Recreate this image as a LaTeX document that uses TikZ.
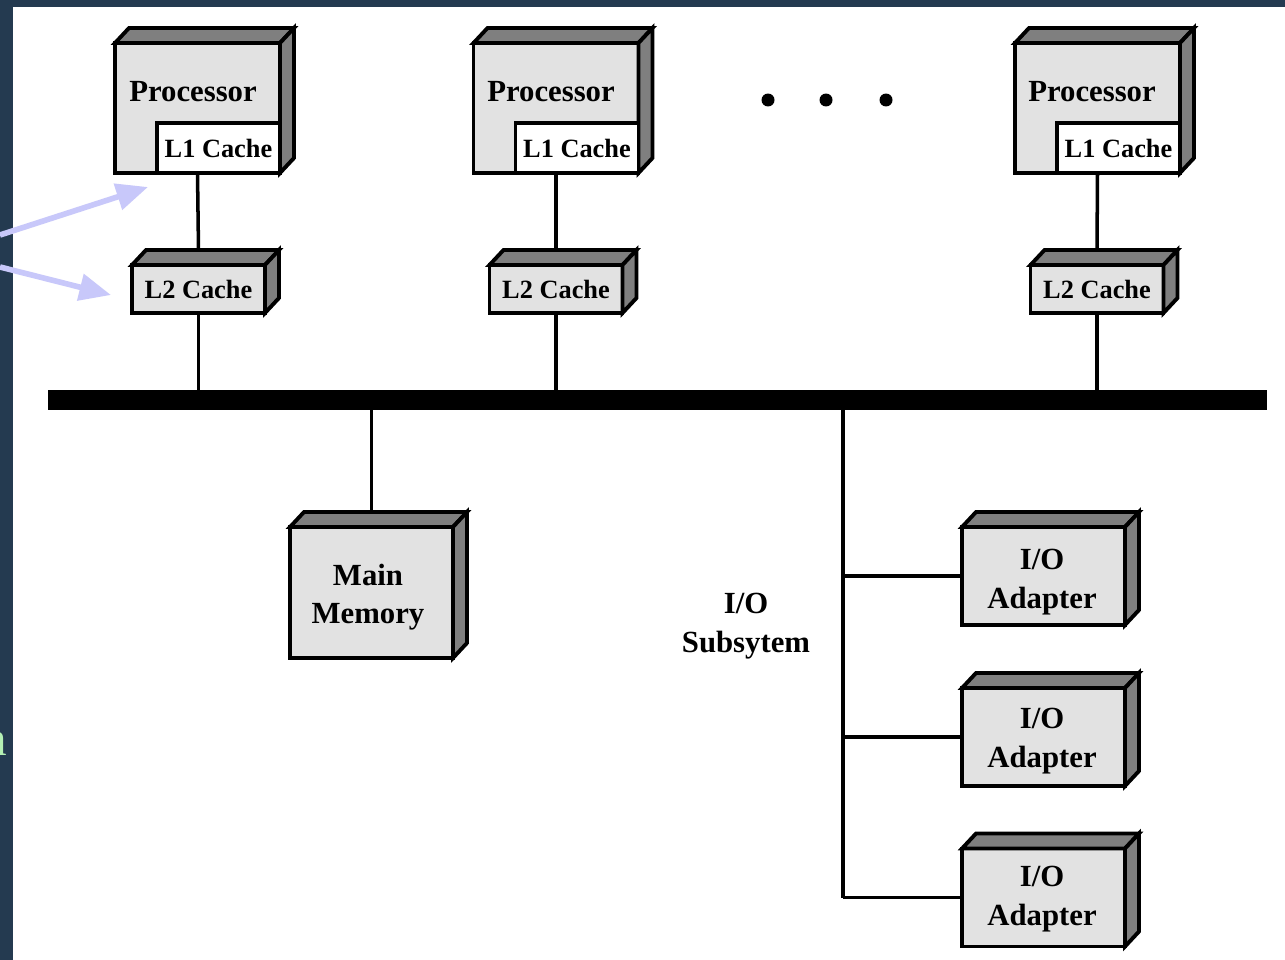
\documentclass[tikz,border=0pt]{standalone}
\usepackage{fontspec}
\setmainfont{Liberation Serif}
\usetikzlibrary{calc,arrows.meta}
\pgfdeclarelayer{back}
\pgfsetlayers{back,main}

\definecolor{slide}{HTML}{243A50}
\definecolor{facegray}{HTML}{E2E2E2}
\definecolor{shadegray}{HTML}{7F7F7F}
\definecolor{pointer}{HTML}{C8C8FA}
\definecolor{leafgreen}{HTML}{B4F0B4}

\tikzset{
  unit/.style={draw=black, line width=2.2pt, fill=facegray, inner sep=0pt,
    outer sep=0pt, align=center, font=\bfseries\fontsize{17.5}{22}\selectfont},
  cpu/.style={unit, minimum width=3.3cm, minimum height=2.6cm},
  lonebox/.style={unit, fill=white, minimum width=2.46cm, minimum height=1.0cm,
    font=\bfseries\fontsize{15}{18}\selectfont},
  ltwobox/.style={unit, minimum width=2.66cm, minimum height=0.96cm,
    font=\bfseries\fontsize{15}{18}\selectfont},
  membox/.style={unit, minimum width=3.26cm, minimum height=2.62cm},
  adapterbox/.style={unit, minimum width=3.26cm, minimum height=1.96cm},
  wire/.style={line width=2pt},
  shade/.style={draw=black, line width=2.2pt, fill=shadegray, line join=miter},
  pointerarrow/.style={draw=pointer, line width=3.2pt,
    -{Triangle[length=18pt,width=15pt,fill=pointer]}},
  caption/.style={font=\bfseries\fontsize{17.5}{22}\selectfont, align=center, inner sep=0pt},
  dot/.style={circle, fill=black, minimum size=0.26cm, inner sep=0pt},
}

% top and right faces of a box drawn in oblique projection
\newcommand\depthfaces[1]{%
  \draw[shade] (#1.north west) -- ++(14,-15) -- ($(#1.north east)+(14,-15)$) -- (#1.north east) -- cycle;
  \draw[shade] (#1.north east) -- ++(14,-15) -- ($(#1.south east)+(14,-15)$) -- (#1.south east) -- cycle;
}

\begin{document}
\begin{tikzpicture}[x=0.02cm, y=-0.02cm]
\useasboundingbox (0,0) rectangle (1285,960);

% slide backdrop and white sheet
\begin{pgfonlayer}{back}
  \fill[slide] (0,0) rectangle (1285,960);
  \fill[white] (13,7) rectangle (1285,960);
\end{pgfonlayer}

% system bus
\node[fill=black, minimum width=24.38cm, minimum height=0.4cm, inner sep=0pt] (bus) at (657.5,400) {};

% processors with their caches
\node[cpu] (p1) at (197.5,108) {};
\node[cpu] (p2) at (556,108) {};
\node[cpu] (p3) at (1097.5,108) {};
\depthfaces{p1}
\depthfaces{p2}
\depthfaces{p3}
\node[lonebox, anchor=south east] (c1) at (p1.south east) {L1 Cache};
\node[lonebox, anchor=south east] (c2) at (p2.south east) {L1 Cache};
\node[lonebox, anchor=south east] (c3) at (p3.south east) {L1 Cache};
\node[caption] (t1) at (193,92) {Processor};
\node[caption] (t2) at (551,92) {Processor};
\node[caption] (t3) at (1092,92) {Processor};

\node[ltwobox] (s1) at (198.5,289) {L2 Cache};
\node[ltwobox] (s2) at (556,289) {L2 Cache};
\node[ltwobox] (s3) at (1097,289) {L2 Cache};
\depthfaces{s1}
\depthfaces{s2}
\depthfaces{s3}

% more processors
\node[dot] (d1) at (768,100) {};
\node[dot] (d2) at (826,100) {};
\node[dot] (d3) at (886,100) {};

% main memory
\node[membox] (mm) at (371.5,592.5) {};
\depthfaces{mm}
\node[caption] (mmt) at (368,597) {Main\\Memory};

% I/O adapters
\node[adapterbox] (io1) at (1043.5,576) {};
\node[adapterbox] (io2) at (1043.5,737) {};
\node[adapterbox] (io3) at (1043.5,897.5) {};
\depthfaces{io1}
\depthfaces{io2}
\depthfaces{io3}
\node[caption] (io1t) at (1042,582) {I/O\\Adapter};
\node[caption] (io2t) at (1042,741) {I/O\\Adapter};
\node[caption] (io3t) at (1042,899) {I/O\\Adapter};
\node[caption] (sub) at (746,626) {I/O\\Subsytem};

% connections
\begin{pgfonlayer}{back}
  \foreach \p/\s in {p1/s1, p2/s2, p3/s3} {
    \draw[wire] (\p.south) -- ($(\s.north)+(0,-15)$);
    \draw[wire] (\s.south) -- (\s.south |- bus.north);
  }
  \draw[wire] (mm.north |- bus.south) -- ($(mm.north)+(0,-15)$);
  \coordinate (trunk) at (843,410);
  \draw[wire] (trunk |- bus.south) -- (trunk |- io3.west);
  \draw[wire] (trunk |- io1.west) -- (io1.west);
  \draw[wire] (trunk |- io2.west) -- (io2.west);
  \draw[wire] (trunk |- io3.west) -- (io3.west);
\end{pgfonlayer}

% pointers coming in from the slide margin
\coordinate (a1) at (0,235);
\coordinate (a1tip) at (148,187);
\coordinate (a2) at (0,267);
\coordinate (a2tip) at (111,295);
\draw[pointerarrow] (a1) -- (a1tip);
\draw[pointerarrow] (a2) -- (a2tip);

% edge of a word on the slide margin
\begin{scope}
  \clip (0,0) rectangle (13,960);
  \node[text=leafgreen, font=\fontsize{28}{28}\selectfont, anchor=base east, inner sep=0pt] (frag) at (7,755) {n};
\end{scope}
\end{tikzpicture}
\end{document}
